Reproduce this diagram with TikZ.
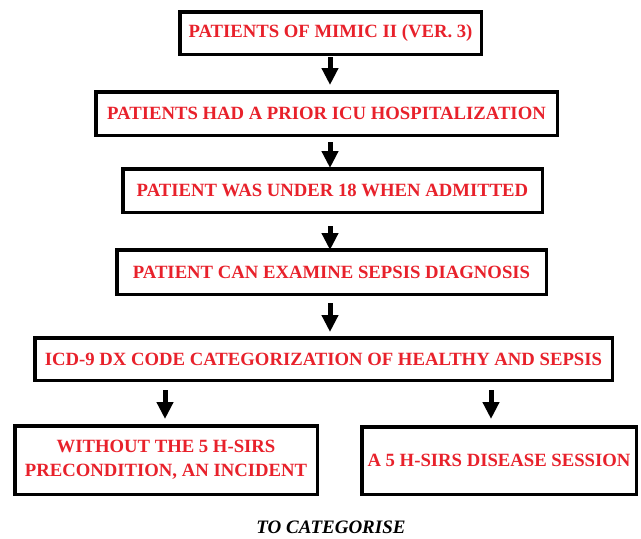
\documentclass[tikz,border=0pt]{standalone}
\usepackage{fontspec}
\setmainfont{Liberation Serif}
\usetikzlibrary{arrows.meta,calc}
\definecolor{txtred}{HTML}{E8212B}
\tikzset{
  box/.style={draw=black, line width=3.5pt, fill=white, inner sep=0pt, font=\bfseries\fontsize{18.7}{24}\selectfont, text=txtred, align=center},
  arr/.style={line width=5pt, -{Triangle[width=16pt,length=17pt]}},
}
\begin{document}
\begin{tikzpicture}[x=1pt,y=-1pt]
\useasboundingbox (0,0) rectangle (641,539);
\node[box, minimum width=301.5pt, minimum height=42.5pt] (b1) at (330.5,33) {PATIENTS OF MIMIC II (VER. 3)};
\node[box, minimum width=461.5pt, minimum height=43.5pt] (b2) at (326.5,113.5) {PATIENTS HAD A PRIOR ICU HOSPITALIZATION};
\node[box, minimum width=419.5pt, minimum height=43.5pt] (b3) at (332.5,190.5) {PATIENT WAS UNDER 18 WHEN ADMITTED};
\node[box, minimum width=429.5pt, minimum height=44.5pt] (b4) at (331.5,272) {PATIENT CAN EXAMINE SEPSIS DIAGNOSIS};
\node[box, minimum width=577.5pt, minimum height=42.5pt] (b5) at (323.5,359) {ICD-9 DX CODE CATEGORIZATION OF HEALTHY AND SEPSIS};
\node[box, minimum width=302.5pt, minimum height=68.5pt] (b6) at (166,460) {WITHOUT THE 5 H-SIRS\\PRECONDITION, AN INCIDENT};
\node[box, minimum width=274.5pt, minimum height=67.5pt] (b7) at (499,460.5) {A 5 H-SIRS DISEASE SESSION};
\node[font=\bfseries\itshape\fontsize{19}{22}\selectfont, text=black] (cap) at (331,527) {TO CATEGORISE};
\coordinate (ax) at (330,0);
\coordinate (lx) at (165,0);
\coordinate (rx) at (491,0);
\draw[arr] ($(b1.south -| ax)+(0,1)$) -- ($(b2.north -| ax)+(0,-5)$);
\draw[arr] ($(b2.south -| ax)+(0,5)$) -- ($(b3.north -| ax)+(0,1)$);
\draw[arr] ($(b3.south -| ax)+(0,12)$) -- ($(b4.north -| ax)+(0,2)$);
\draw[arr] ($(b4.south -| ax)+(0,7)$) -- ($(b5.north -| ax)+(0,-4)$);
\draw[arr] ($(b5.south -| lx)+(0,8)$) -- ($(b6.north -| lx)+(0,-5)$);
\draw[arr] ($(b5.south -| rx)+(0,8)$) -- ($(b7.north -| rx)+(0,-6)$);
\end{tikzpicture}
\end{document}
